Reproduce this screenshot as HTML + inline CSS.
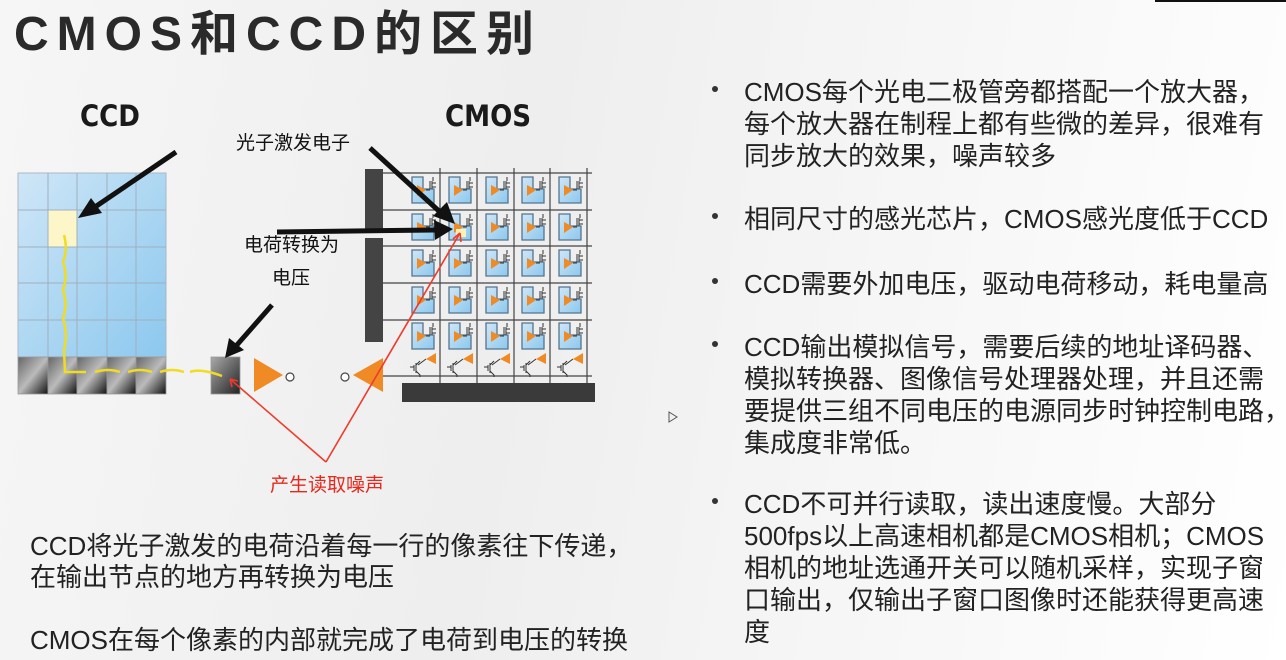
<!DOCTYPE html>
<html><head><meta charset="utf-8"><style>
html,body{margin:0;padding:0}
body{width:1286px;height:660px;overflow:hidden;position:relative;
background:linear-gradient(100deg,#f6f6f6 0%,#eeeeee 40%,#f4f4f4 60%,#ffffff 100%);
font-family:"Liberation Sans","Noto Sans CJK SC",sans-serif;color:#222}
.t{position:absolute;white-space:nowrap}
.title{left:14px;top:-6px;font-size:48px;font-weight:bold;letter-spacing:8px;color:#2a2a2a}
.r{font-size:26px;color:#222;left:744px}
.b{position:absolute;left:712px;width:6px;height:6px;border-radius:50%;background:#333}
.l{font-size:26px;left:30px;color:#222}
</style></head><body>
<div style="position:absolute;left:1155px;top:0;width:131px;height:2px;background:#111"></div>
<div class="t title">CMOS和CCD的区别</div>

<svg width="1286" height="660" style="position:absolute;left:0;top:0">
<defs>
<linearGradient id="bl" x1="0" y1="0" x2="1" y2="1"><stop offset="0" stop-color="#cfe6f7"/><stop offset="1" stop-color="#8cc8ee"/></linearGradient>
<linearGradient id="dk" x1="0" y1="0" x2="1" y2="1"><stop offset="0" stop-color="#666"/><stop offset="0.5" stop-color="#bbb"/><stop offset="1" stop-color="#111"/></linearGradient>
<linearGradient id="dk2" x1="0" y1="0" x2="1" y2="1"><stop offset="0" stop-color="#aaa"/><stop offset="1" stop-color="#222"/></linearGradient>
<g id="cell">
<polygon points="0,0 11,0 11,12 22,12 22,26 0,26" fill="url(#bl)" stroke="#56748c" stroke-width="1.3"/>
<polygon points="5,8 5,19 14,13" fill="#f08a24"/>
<path d="M14,13 H18 M18,4 V12 M20,4 V12 M20,6 H24 M20,10 H24 M21,0 V4" stroke="#333" stroke-width="1" fill="none"/>
</g>
<g id="amp">
<polygon points="14,0 14,11 4,6" fill="#f08a24"/>
<path d="M4,6 L-4,12 M-6,10 V20 M-8,12 V18 M-8,14 H-12 M-6,18 L-2,22 V24 M-6,12 L-2,8" stroke="#333" stroke-width="1" fill="none"/>
</g>
</defs>

<g stroke="#aab8c4" stroke-width="1">
<rect x="18" y="173" width="148" height="184" fill="url(#bl)"/>
<rect x="48" y="210" width="29" height="37" fill="#fdf6c8"/>
</g>
<g stroke="#9fb0be" stroke-width="1">
<line x1="48" y1="173" x2="48" y2="357"/><line x1="77" y1="173" x2="77" y2="357"/><line x1="107" y1="173" x2="107" y2="357"/><line x1="136" y1="173" x2="136" y2="357"/>
<line x1="18" y1="210" x2="166" y2="210"/><line x1="18" y1="247" x2="166" y2="247"/><line x1="18" y1="283" x2="166" y2="283"/><line x1="18" y1="320" x2="166" y2="320"/>
</g>
<g stroke="#999" stroke-width="0.8">
<rect x="18" y="357" width="30" height="37" fill="url(#dk)"/>
<rect x="48" y="357" width="29" height="37" fill="url(#dk)"/>
<rect x="77" y="357" width="30" height="37" fill="url(#dk)"/>
<rect x="107" y="357" width="29" height="37" fill="url(#dk)"/>
<rect x="136" y="357" width="30" height="37" fill="url(#dk)"/>
<rect x="211" y="357" width="29" height="37" fill="url(#dk2)"/>
</g>
<path d="M64,235 Q68,250 63,262 Q68,276 63,290 Q68,305 63,318 Q68,335 64,350 L65,372 H86 M95,372 Q108,368 120,372 M128,372 Q140,368 152,372 M160,372 Q172,368 184,372 M190,372 Q200,368 222,376" stroke="#f0dc20" stroke-width="2.5" fill="none"/>
<polygon points="254,358 254,392 283,375" fill="#f08a24"/>
<circle cx="290" cy="377" r="4" fill="#fff" stroke="#444" stroke-width="1.2"/>
<polygon points="383,358 383,392 353,375" fill="#f08a24"/>
<circle cx="345" cy="377" r="4" fill="#fff" stroke="#444" stroke-width="1.2"/>

<rect x="365" y="169" width="18" height="64" fill="#444"/>
<rect x="365" y="238" width="18" height="104" fill="#444"/>
<rect x="402" y="383" width="193" height="19" fill="#3a3a3a"/>
<g stroke="#444" stroke-width="1.2">
<line x1="383" y1="173" x2="592" y2="173"/><line x1="383" y1="210" x2="592" y2="210"/><line x1="383" y1="246" x2="592" y2="246"/><line x1="383" y1="283" x2="592" y2="283"/><line x1="383" y1="320" x2="592" y2="320"/>
<line x1="383" y1="376" x2="592" y2="376"/>
<line x1="440" y1="168" x2="440" y2="383"/><line x1="477" y1="168" x2="477" y2="383"/><line x1="514" y1="168" x2="514" y2="383"/><line x1="550" y1="168" x2="550" y2="383"/><line x1="587" y1="168" x2="587" y2="383"/>
</g>
<g>
<use href="#cell" x="412" y="177"/><use href="#cell" x="449" y="177"/><use href="#cell" x="486" y="177"/><use href="#cell" x="522" y="177"/><use href="#cell" x="559" y="177"/>
<use href="#cell" x="412" y="214"/><use href="#cell" x="449" y="214"/><use href="#cell" x="486" y="214"/><use href="#cell" x="522" y="214"/><use href="#cell" x="559" y="214"/>
<use href="#cell" x="412" y="250"/><use href="#cell" x="449" y="250"/><use href="#cell" x="486" y="250"/><use href="#cell" x="522" y="250"/><use href="#cell" x="559" y="250"/>
<use href="#cell" x="412" y="287"/><use href="#cell" x="449" y="287"/><use href="#cell" x="486" y="287"/><use href="#cell" x="522" y="287"/><use href="#cell" x="559" y="287"/>
<use href="#cell" x="412" y="323"/><use href="#cell" x="449" y="323"/><use href="#cell" x="486" y="323"/><use href="#cell" x="522" y="323"/><use href="#cell" x="559" y="323"/>
<rect x="456" y="229" width="10" height="8" fill="#fdf1b8"/>
<use href="#amp" x="422" y="353"/><use href="#amp" x="459" y="353"/><use href="#amp" x="496" y="353"/><use href="#amp" x="532" y="353"/><use href="#amp" x="569" y="353"/>
</g>

<g stroke="#111" stroke-width="5" fill="#111">
<line x1="176" y1="152" x2="95" y2="207"/>
<polygon points="78,218 91,198 102,213" stroke="none"/>
<line x1="370" y1="148" x2="440" y2="212"/>
<polygon points="455,224 433,216 447,202" stroke="none"/>
<line x1="277" y1="232" x2="435" y2="230"/>
<polygon points="453,229 434,220 435,240" stroke="none"/>
<line x1="272" y1="305" x2="236" y2="346"/>
<polygon points="225,358 229,338 244,350" stroke="none"/>
</g>
<g stroke="#f03a2a" stroke-width="1.6" fill="none">
<path d="M326,462 L230,379"/><path d="M326,462 L460,233"/>
<path d="M230,379 L238,381 M230,379 L232,387"/>
<path d="M460,233 L453,239 M460,233 L461,242"/>
</g>
<text x="80" y="126" font-family="DejaVu Sans Condensed,Liberation Sans,sans-serif" font-weight="bold" font-size="29" fill="#1a1a1a">CCD</text>
<text x="445" y="126" font-family="DejaVu Sans Condensed,Liberation Sans,sans-serif" font-weight="bold" font-size="29" fill="#1a1a1a">CMOS</text>
<text x="236" y="149" font-size="19" fill="#111" font-family="Liberation Sans,Noto Sans CJK SC,sans-serif">光子激发电子</text>
<text x="244" y="251" font-size="19" fill="#111" font-family="Liberation Sans,Noto Sans CJK SC,sans-serif">电荷转换为</text>
<text x="272" y="284" font-size="19" fill="#111" font-family="Liberation Sans,Noto Sans CJK SC,sans-serif">电压</text>
<text x="270" y="491" font-size="19" fill="#e8281c" font-family="Liberation Sans,Noto Sans CJK SC,sans-serif">产生读取噪声</text>
<polygon points="669,412 669,422 677,417" fill="none" stroke="#555" stroke-width="1"/>
</svg>

<div class="t l" style="top:526px">CCD将光子激发的电荷沿着每一行的像素往下传递，</div>
<div class="t l" style="top:557px">在输出节点的地方再转换为电压</div>
<div class="t l" style="top:620px">CMOS在每个像素的内部就完成了电荷到电压的转换</div>

<div class="b" style="top:86px"></div>
<div class="t r" style="top:72px">CMOS每个光电二极管旁都搭配一个放大器，</div>
<div class="t r" style="top:104px">每个放大器在制程上都有些微的差异，很难有</div>
<div class="t r" style="top:136px">同步放大的效果，噪声较多</div>
<div class="b" style="top:213px"></div>
<div class="t r" style="top:199px">相同尺寸的感光芯片，CMOS感光度低于CCD</div>
<div class="b" style="top:278px"></div>
<div class="t r" style="top:264px">CCD需要外加电压，驱动电荷移动，耗电量高</div>
<div class="b" style="top:341px"></div>
<div class="t r" style="top:327px">CCD输出模拟信号，需要后续的地址译码器、</div>
<div class="t r" style="top:359px">模拟转换器、图像信号处理器处理，并且还需</div>
<div class="t r" style="top:391px">要提供三组不同电压的电源同步时钟控制电路，</div>
<div class="t r" style="top:423px">集成度非常低。</div>
<div class="b" style="top:498px"></div>
<div class="t r" style="top:484px">CCD不可并行读取，读出速度慢。大部分</div>
<div class="t r" style="top:516px">500fps以上高速相机都是CMOS相机；CMOS</div>
<div class="t r" style="top:548px">相机的地址选通开关可以随机采样，实现子窗</div>
<div class="t r" style="top:580px">口输出，仅输出子窗口图像时还能获得更高速</div>
<div class="t r" style="top:612px">度</div>
</body></html>
